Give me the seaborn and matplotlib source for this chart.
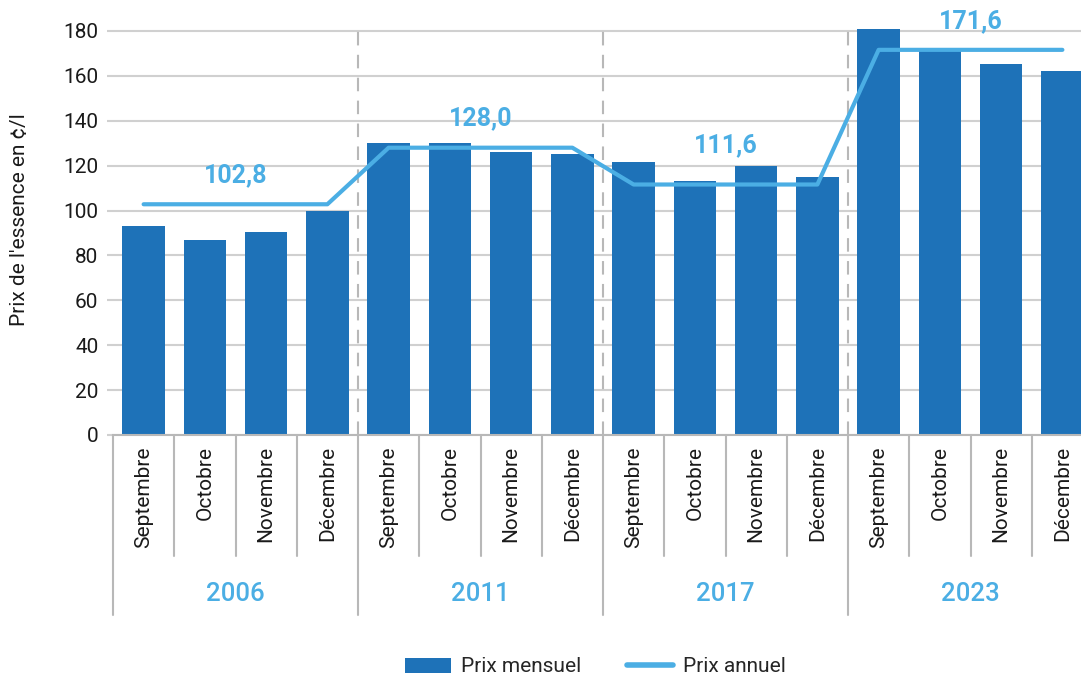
import matplotlib
matplotlib.use("Agg")
import matplotlib.pyplot as plt
import seaborn as sns
import pandas as pd
from matplotlib.lines import Line2D
from matplotlib.patches import Patch
import matplotlib.transforms as mtransforms

# Data
years = ["2006", "2011", "2017", "2023"]
months = ["Septembre", "Octobre", "Novembre", "Décembre"]
monthly_price = [93.1, 86.7, 90.4, 99.8,
                 130.0, 130.0, 126.2, 125.3,
                 121.5, 113.0, 119.7, 115.0,
                 181.0, 171.0, 165.2, 162.2]
annual_price = [102.8, 128.0, 111.6, 171.6]

BAR = "#1E72B8"
LINE = "#4BAEE4"
GRID = "#D0D0D0"
AXIS = "#B8B8B8"
TEXT = "#1A1A1A"

sns.set_theme(style="white")
plt.rcParams["font.family"] = ["Roboto", "DejaVu Sans"]

rows = []
for yi, y in enumerate(years):
    for mi, m in enumerate(months):
        rows.append({"cat": f"{y} {m}", "year": y, "month": m,
                     "mensuel": monthly_price[yi * 4 + mi],
                     "annuel": annual_price[yi]})
df = pd.DataFrame(rows)
df["pos"] = range(len(df))

fig = plt.figure(figsize=(10.81, 6.79), dpi=100)
ax = fig.add_axes([113 / 1081, 1 - 435 / 679, 980 / 1081, 408.5 / 679])

sns.barplot(data=df, x="cat", y="mensuel", color=BAR, width=0.69,
            saturation=1, ax=ax, zorder=2, edgecolor="none")
sns.lineplot(data=df, x="pos", y="annuel", color=LINE, linewidth=3,
             ax=ax, zorder=3, solid_capstyle="round")

ax.set_xlim(-0.5, len(df) - 0.5)
ax.set_ylim(0, 182)
ax.set_yticks(range(0, 181, 20))
ax.yaxis.grid(True, color=GRID, linewidth=1.5, zorder=0)
ax.set_axisbelow(True)
for s in ["top", "right", "left"]:
    ax.spines[s].set_visible(False)
ax.spines["bottom"].set_color(AXIS)
ax.spines["bottom"].set_linewidth(1.5)
ax.tick_params(axis="y", length=4.5, width=1.5, color=GRID, pad=6,
               labelsize=15, labelcolor=TEXT, left=True)
ax.set_xticks([])
ax.set_xlabel("")
ax.set_ylabel("")

# Multi-level category axis
trans = mtransforms.blended_transform_factory(ax.transData, fig.transFigure)
fy = lambda py: 1 - py / 679
for i, row in df.iterrows():
    ax.text(i, fy(446), row["month"], rotation=90, ha="center", va="top",
            fontsize=15, color=TEXT, transform=trans)
    if i % 4 != 0:
        ax.add_line(Line2D([i - 0.5, i - 0.5], [fy(435), fy(556)],
                           transform=trans, color=AXIS, lw=1.5, clip_on=False))
for gi, y in enumerate(years):
    x0 = gi * 4 - 0.5
    ax.add_line(Line2D([x0, x0], [fy(435), fy(615)], transform=trans,
                       color=AXIS, lw=1.5, clip_on=False))
    if gi > 0:
        ax.vlines(x0, 0, 180, colors=AXIS, linewidth=1.5,
                  linestyles=(0, (6.5, 4.5)), zorder=1)
    ax.text(gi * 4 + 1.5, fy(594), y, ha="center", va="center",
            fontsize=18.5, color=LINE, fontweight="medium", transform=trans)
    # annual value label
    offset = 39 if gi == 2 else 29
    ax.annotate(f"{annual_price[gi]:.1f}".replace(".", ","),
                xy=(gi * 4 + 1.5, annual_price[gi]), xytext=(0, offset * 0.72),
                textcoords="offset points", ha="center", va="center",
                fontsize=18, fontweight="bold", color=LINE, zorder=4)

fig.text(20 / 1081, fy(220), "Prix de l'essence en ¢/l", rotation=90,
         ha="center", va="center", fontsize=15, color=TEXT)

handles = [Patch(facecolor=BAR, edgecolor="none", label="Prix mensuel"),
           Line2D([0], [0], color=LINE, lw=4, solid_capstyle="round",
                  label="Prix annuel")]
fig.legend(handles=handles, loc="center", bbox_to_anchor=(0.551, fy(667)),
           ncol=2, frameon=False, fontsize=15, handlelength=2.2,
           handleheight=0.75, columnspacing=2.2, handletextpad=0.5)

fig.savefig("out.png", dpi=100)
